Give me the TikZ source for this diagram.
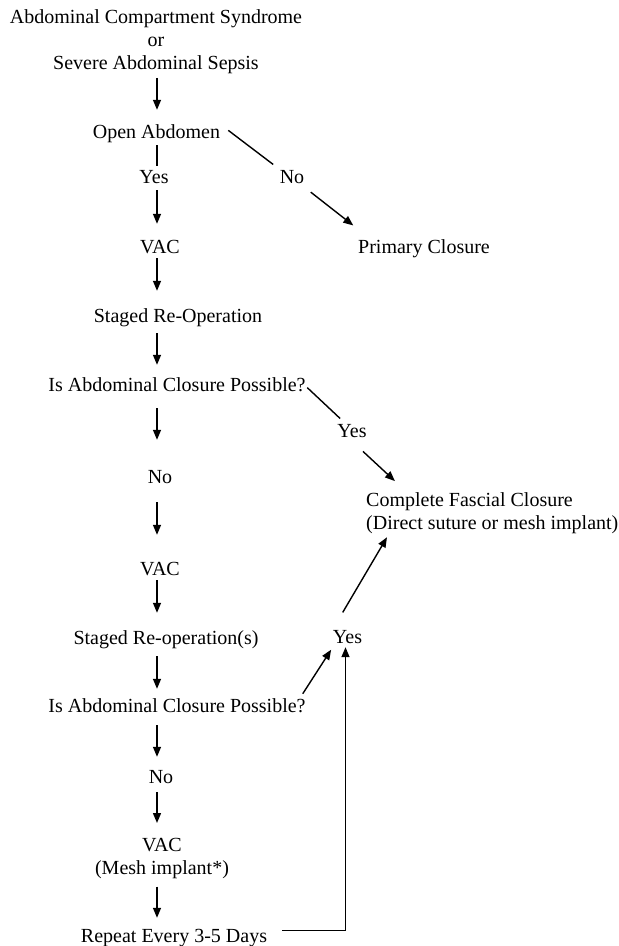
\documentclass[tikz,border=0pt]{standalone}
\usepackage{fontspec}
\setmainfont{Liberation Serif}
\usetikzlibrary{arrows.meta}

\begin{document}
\begin{tikzpicture}[
  x=1pt, y=-1pt,
  txt/.style={inner sep=0pt, anchor=base, text height=13.5pt, text depth=4pt,
              font=\fontsize{20}{23}\selectfont},
  blk/.style={inner sep=0pt, font=\fontsize{20}{23}\selectfont},
  ln/.style={line width=1.4pt},
  arr/.style={ln, -{Triangle[length=10pt,width=8pt]}},
  trim/.style 2 args={shorten <=#1pt, shorten >=#2pt}
]
  \useasboundingbox (0,0) rectangle (619,946);
  \coordinate (spine) at (157,0);

  % main column
  \node[blk, align=center, anchor=north] (acs) at (156,9.3)
        {Abdominal Compartment Syndrome\\or\\Severe Abdominal Sepsis};
  \node[txt] (open) at (156.5,138) {Open Abdomen};
  \node[txt] (yes1) at (154,183) {Yes};
  \node[txt] (vac1) at (160,253) {VAC};
  \node[txt] (sro1) at (178,322) {Staged Re-Operation};
  \node[txt] (ask1) at (177,391) {Is Abdominal Closure Possible?};
  \node[txt] (no2)  at (160,483) {No};
  \node[txt] (vac2) at (160,575) {VAC};
  \node[txt] (sro2) at (166,644) {Staged Re-operation(s)};
  \node[txt] (ask2) at (177,712) {Is Abdominal Closure Possible?};
  \node[txt] (no3)  at (161,783) {No};
  \node[blk, align=center, anchor=north] (vac3) at (162,837.8)
        {VAC\\(Mesh implant*)};
  \node[txt] (rpt)  at (174,942) {Repeat Every 3-5 Days};

  % right branches
  \node[txt] (no1)  at (292,183) {No};
  \node[txt] (prim) at (424,253) {Primary Closure};
  \node[txt] (yes2) at (352,437) {Yes};
  \node[txt] (yes3) at (347.5,643) {Yes};
  \node[blk, align=left, anchor=north west] (cfc) at (366,492.3)
        {Complete Fascial Closure\\(Direct suture or mesh implant)};

  % vertical flow
  \draw[arr, trim={4}{14.5}]  (acs.south -| spine)  -- (open.north -| spine);
  \draw[ln,  trim={3}{3.5}]   (open.south -| spine) -- (yes1.north -| spine);
  \draw[arr, trim={3}{15.5}]  (yes1.south -| spine) -- (vac1.north -| spine);
  \draw[arr, trim={1}{17.5}]  (vac1.south -| spine) -- (sro1.north -| spine);
  \draw[arr, trim={7}{12.5}]  (sro1.south -| spine) -- (ask1.north -| spine);
  \draw[arr, trim={13}{29.5}] (ask1.south -| spine) -- (no2.north -| spine);
  \draw[arr, trim={15}{26.5}] (no2.south -| spine)  -- (vac2.north -| spine);
  \draw[arr, trim={1}{17.5}]  (vac2.south -| spine) -- (sro2.north -| spine);
  \draw[arr, trim={8}{9.5}]   (sro2.south -| spine) -- (ask2.north -| spine);
  \draw[arr, trim={9}{12.5}]  (ask2.south -| spine) -- (no3.north -| spine);
  \draw[arr, trim={5}{14.8}]  (no3.south -| spine)  -- (vac3.north -| spine);
  \draw[arr, trim={8}{10.5}]  (vac3.south -| spine) -- (rpt.north -| spine);

  % diagonal branches
  \draw[ln,  trim={10}{8}]    (open.north east) -- (no1.north west);
  \draw[arr, trim={8}{22.5}]  (no1.south east) -- ([xshift=13pt]prim.north west);
  \draw[ln,  trim={2}{7}]     (ask1.east) -- ([xshift=8pt]yes2.north west);
  \draw[arr, trim={15}{16.5}] (yes2.south) -- ([xshift=41pt]cfc.north west);
  \draw[arr, trim={5.5}{3}]   ([xshift=-6pt]ask2.north east) -- (yes3.south west);
  \draw[arr, trim={19.6}{4}]  (yes3.north west) -- ([xshift=23pt]cfc.south west);

  % loop back
  \draw[arr, trim={15}{0}]    ([yshift=7pt]rpt.east) -| ([xshift=-2pt]yes3.south);
\end{tikzpicture}
\end{document}
